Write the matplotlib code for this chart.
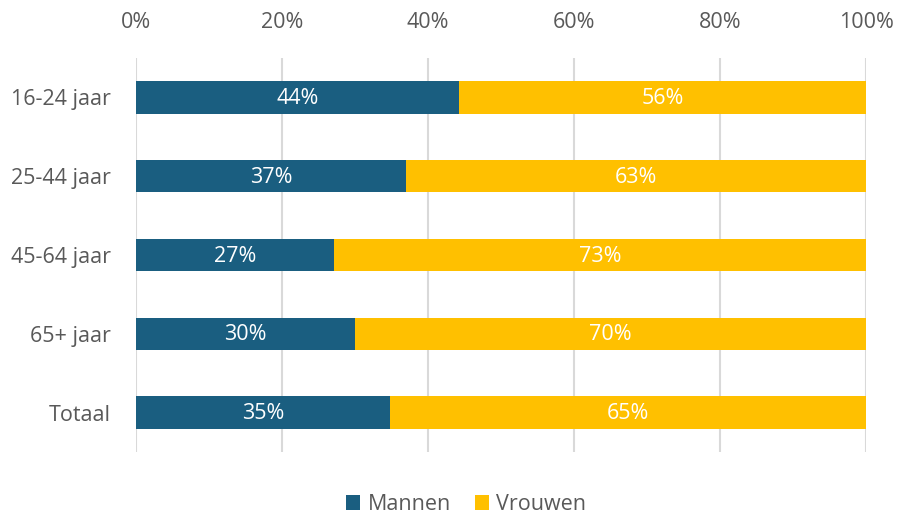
import matplotlib
matplotlib.use("Agg")
from matplotlib import pyplot as plt
from matplotlib.ticker import PercentFormatter

categories = ["16-24 jaar", "25-44 jaar", "45-64 jaar", "65+ jaar", "Totaal"]
mannen = [44.2, 37.0, 27.1, 30.0, 34.8]
vrouwen = [55.8, 63.0, 72.9, 70.0, 65.2]

blue = "#1A5E80"
yellow = "#FFC000"
grey = "#595959"

plt.rcParams["font.family"] = ["Open Sans", "DejaVu Sans"]
fs = 15.5

fig = plt.figure(figsize=(8.97, 5.15), dpi=100)
ax = fig.add_axes([136 / 897, 1 - 452 / 515, 730 / 897, 394 / 515])

y = list(range(len(categories)))
bars_m = ax.barh(y, mannen, height=0.41, color=blue, label="Mannen", zorder=3)
bars_v = ax.barh(y, vrouwen, left=mannen, height=0.41, color=yellow,
                 label="Vrouwen", zorder=3)

# data labels in the middle of each segment
for bars, vals in ((bars_m, mannen), (bars_v, vrouwen)):
    for b, v in zip(bars, vals):
        ax.text(b.get_x() + b.get_width() / 2, b.get_y() + b.get_height() / 2 + 0.015,
                f"{round(v):.0f}%", ha="center", va="center",
                color="white", fontsize=fs, zorder=4)

ax.set_xlim(0, 100)
ax.set_ylim(len(categories) - 0.5, -0.5)
ax.set_yticks(y, categories)
ax.set_xticks(range(0, 101, 20))
ax.xaxis.set_major_formatter(PercentFormatter(decimals=0))
ax.xaxis.tick_top()
ax.tick_params(axis="both", length=0, labelsize=fs, labelcolor=grey)
ax.tick_params(axis="x", pad=18)
ax.tick_params(axis="y", pad=18)
ax.grid(axis="x", color="#D9D9D9", linewidth=1.5, zorder=0)
for s in ax.spines.values():
    s.set_visible(False)

fig.legend(loc="lower center", ncol=2, frameon=False, fontsize=fs,
           bbox_to_anchor=(0.52, -0.038), handlelength=0.65, handleheight=0.65,
           handletextpad=0.35, columnspacing=1.1, labelcolor=grey)

fig.savefig("out.png", dpi=100)
